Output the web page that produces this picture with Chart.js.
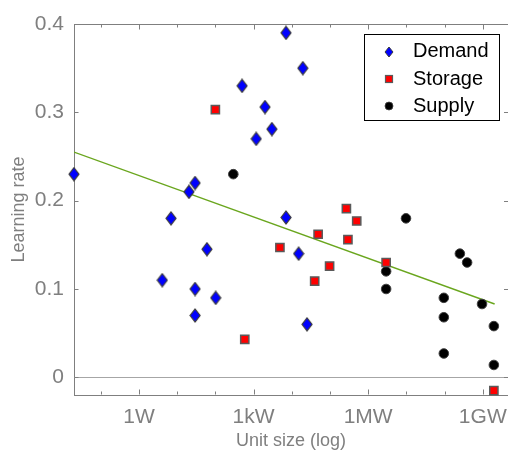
<!DOCTYPE html>
<html><head><meta charset="utf-8">
<script src="https://cdn.jsdelivr.net/npm/chart.js@4.4.1/dist/chart.umd.min.js"></script>
<style>html,body{margin:0;padding:0;background:#fff}#wrap{width:508px;height:452px}canvas{display:block}</style>
</head><body><div id="wrap"><canvas id="c" width="508" height="452"></canvas></div>
<script>
// Series names
const seriesNames = ['Demand', 'Storage', 'Supply'];
// x = log10(unit size in W), y = learning rate
const demandX = [-1.70, 0.61, 0.84, 1.31, 1.47, 1.78, 1.47, 2.01, 1.47, 2.70, 3.30, 3.48, 3.07, 3.85, 4.29, 3.85, 4.18, 4.40];
const demandY = [0.230, 0.110, 0.180, 0.210, 0.220, 0.145, 0.100, 0.090, 0.070, 0.330, 0.306, 0.281, 0.270, 0.390, 0.350, 0.181, 0.140, 0.060];
const storageX = [2.00, 2.77, 3.69, 4.69, 5.43, 5.70, 5.47, 4.99, 4.60, 6.47, 9.29];
const storageY = [0.303, 0.043, 0.147, 0.162, 0.191, 0.177, 0.156, 0.126, 0.109, 0.130, -0.015];
const supplyX = [2.47, 6.99, 6.47, 6.47, 8.40, 8.59, 7.98, 7.98, 7.98, 8.98, 9.29, 9.29];
const supplyY = [0.230, 0.180, 0.120, 0.100, 0.140, 0.130, 0.090, 0.068, 0.027, 0.083, 0.058, 0.014];
// fitted trend line end points
const fitX = [-1.70, 9.31];
const fitY = [0.255, 0.083];
// ticks
const xTickValues = [0, 3, 6, 9];
const xTickLabels = ['1W', '1kW', '1MW', '1GW'];
const xMinorTicks = [-1, 0, 1, 2, 3, 4, 5, 6, 7, 8, 9];
const yTickValues = [0, 0.1, 0.2, 0.3, 0.4];
const yTickLabels = ['0', '0.1', '0.2', '0.3', '0.4'];

const FONT = "'Liberation Sans', Arial, sans-serif";
const GRAY = '#7f7f7f';

function diamondCanvas(w, h, lw) {
  const c = document.createElement('canvas');
  c.width = w + 2; c.height = h + 2;
  const g = c.getContext('2d');
  const cx = (w + 2) / 2, cy = (h + 2) / 2;
  g.beginPath();
  g.moveTo(cx, 1); g.lineTo(w + 1, cy); g.lineTo(cx, h + 1); g.lineTo(1, cy); g.closePath();
  g.fillStyle = '#0000ff'; g.fill();
  g.lineWidth = lw; g.strokeStyle = '#3a3a3a'; g.stroke();
  return c;
}
const diamondImg = diamondCanvas(10, 13, 1.2);

const pts = (xs, ys) => xs.map((x, i) => ({ x: x, y: ys[i] }));

const framePlugin = {
  id: 'frame',
  beforeDatasetsDraw(chart) {
    const { ctx, chartArea: a, scales: { x, y } } = chart;
    const L = Math.round(a.left) + 0.5, R = Math.round(a.right) - 0.5;
    const T = Math.round(a.top) + 0.5, B = Math.round(a.bottom) - 0.5;
    ctx.save();
    ctx.lineWidth = 1;
    // zero line
    ctx.strokeStyle = '#a6a6a6';
    const y0 = Math.round(y.getPixelForValue(0)) + 0.5;
    ctx.beginPath(); ctx.moveTo(L, y0); ctx.lineTo(R + 0.5, y0); ctx.stroke();
    // top border
    ctx.strokeStyle = GRAY;
    ctx.beginPath(); ctx.moveTo(L, T); ctx.lineTo(R + 0.5, T); ctx.stroke();
    // x ticks (inward, bottom and top)
    xMinorTicks.forEach(v => {
      const px = Math.round(x.getPixelForValue(v)) + 0.5;
      const len = xTickValues.includes(v) ? 5 : 3;
      ctx.beginPath(); ctx.moveTo(px, B); ctx.lineTo(px, B - len); ctx.stroke();
      ctx.beginPath(); ctx.moveTo(px, T); ctx.lineTo(px, T + len); ctx.stroke();
    });
    // y ticks (inward, left and right)
    yTickValues.forEach(v => {
      const py = Math.round(y.getPixelForValue(v)) + 0.5;
      ctx.beginPath(); ctx.moveTo(L, py); ctx.lineTo(L + 4, py); ctx.stroke();
      ctx.beginPath(); ctx.moveTo(R + 0.5, py); ctx.lineTo(R - 3.5, py); ctx.stroke();
    });
    ctx.restore();
  },
  afterDraw(chart) {
    const { ctx, chartArea: a } = chart;
    const bw = 135, bh = 86;
    const bx = Math.round(a.right - 9.5 - bw) + 0.5, by = Math.round(a.top + 10) + 0.5;
    ctx.save();
    ctx.fillStyle = '#ffffff';
    ctx.fillRect(bx, by, bw, bh);
    ctx.strokeStyle = '#000000'; ctx.lineWidth = 1;
    ctx.strokeRect(bx, by, bw, bh);
    const mx = bx + 24.5, tx = bx + 48.5;
    const rows = [by + 17, by + 44.5, by + 71.5];
    // markers
    const smallDiamond = diamondCanvas(8, 10, 1);
    ctx.drawImage(smallDiamond, Math.round(mx - smallDiamond.width / 2), Math.round(rows[0] - smallDiamond.height / 2));
    ctx.fillStyle = '#ff0000'; ctx.strokeStyle = '#5a5a5a'; ctx.lineWidth = 1.2;
    ctx.fillRect(mx - 3.5, rows[1] - 3.5, 7, 7); ctx.strokeRect(mx - 3.5, rows[1] - 3.5, 7, 7);
    ctx.beginPath(); ctx.arc(mx, rows[2], 4, 0, Math.PI * 2);
    ctx.fillStyle = '#000'; ctx.fill(); ctx.strokeStyle = '#444'; ctx.lineWidth = 0.8; ctx.stroke();
    // labels
    ctx.fillStyle = '#000'; ctx.font = '20px ' + FONT; ctx.textBaseline = 'middle'; ctx.textAlign = 'left';
    seriesNames.forEach((n, i) => ctx.fillText(n, tx, rows[i]));
    ctx.restore();
  }
};

new Chart(document.getElementById('c').getContext('2d'), {
  type: 'scatter',
  data: {
    datasets: [
      { label: seriesNames[0], data: pts(demandX, demandY), pointStyle: diamondImg, pointRadius: 6, clip: false },
      { label: seriesNames[1], data: pts(storageX, storageY), pointStyle: 'rect', pointRadius: 5.8,
        backgroundColor: '#ff0000', borderColor: '#5a5a5a', borderWidth: 1.5, clip: false },
      { label: seriesNames[2], data: pts(supplyX, supplyY), pointStyle: 'circle', pointRadius: 4.8,
        backgroundColor: '#000000', borderColor: '#404040', borderWidth: 1, clip: false },
      { label: 'fit', data: pts(fitX, fitY), showLine: true, pointRadius: 0, borderColor: '#6aa61e',
        borderWidth: 1.4, fill: false }
    ]
  },
  options: {
    responsive: false, animation: false, events: [],
    layout: { autoPadding: false, padding: { top: 24, right: 0, left: 0, bottom: 0 } },
    plugins: { legend: { display: false }, tooltip: { enabled: false } },
    scales: {
      x: {
        type: 'linear', min: -1.70, max: 9.66,
        grid: { display: false, drawTicks: false },
        border: { display: true, color: GRAY, width: 1 },
        ticks: { padding: 10, color: GRAY, font: { family: FONT, size: 21 }, autoSkip: false, maxRotation: 0,
          callback: (v) => xTickLabels[xTickValues.indexOf(v)] },
        afterBuildTicks: (s) => { s.ticks = xTickValues.map(v => ({ value: v })); },
        afterFit: (s) => { s.height = 57; s.paddingLeft = 0; s.paddingRight = 0; },
        title: { display: true, text: 'Unit size (log)', color: GRAY, font: { family: FONT, size: 18 }, padding: { top: 0, bottom: 0 } }
      },
      y: {
        type: 'linear', min: -0.02, max: 0.4,
        grid: { display: false, drawTicks: false },
        border: { display: true, color: GRAY, width: 1 },
        ticks: { padding: 10, color: GRAY, font: { family: FONT, size: 21 }, autoSkip: false,
          callback: (v) => yTickLabels[yTickValues.indexOf(v)] },
        afterBuildTicks: (s) => { s.ticks = yTickValues.map(v => ({ value: v })); },
        afterFit: (s) => { s.width = 74; s.paddingTop = 0; s.paddingBottom = 0; },
        title: { display: true, text: 'Learning rate', color: GRAY, font: { family: FONT, size: 18 }, padding: { top: 8, bottom: 0 } }
      }
    }
  },
  plugins: [framePlugin]
});
</script>
</body></html>
